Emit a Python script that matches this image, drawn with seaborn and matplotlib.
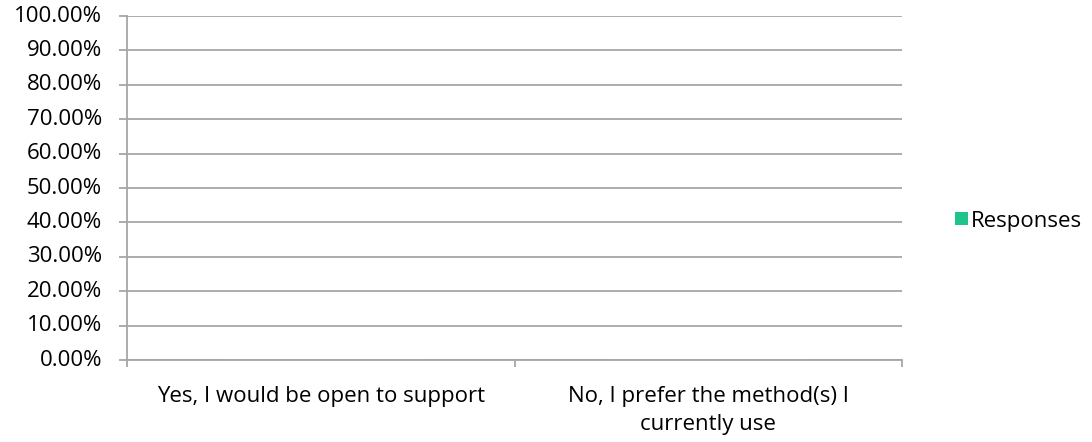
import matplotlib
matplotlib.use("Agg")
import matplotlib.pyplot as plt
import seaborn as sns
import pandas as pd
from matplotlib.ticker import FixedLocator, PercentFormatter
from matplotlib.patches import Patch

categories = ["Yes, I would be open to support", "No, I prefer the method(s) I\ncurrently use"]
responses = [0.0, 0.0]
yticks = [0, 10, 20, 30, 40, 50, 60, 70, 80, 90, 100]

sns.set_theme(style="white")
plt.rcParams['font.family'] = ['Open Sans', 'DejaVu Sans']

df = pd.DataFrame({"category": categories, "Responses": responses})

fig = plt.figure(figsize=(10.92, 4.42), dpi=100)
ax = fig.add_axes([127/1092, 82/442, 775/1092, 344/442])
green = "#1fc48b"
sns.barplot(data=df, x="category", y="Responses", color=green, ax=ax, width=0.5)

gray = "#a6a6a6"
fs = 16
ax.set_ylim(0, 100)
ax.set_xlim(-0.5, 1.5)
ax.yaxis.set_major_locator(FixedLocator(yticks))
ax.yaxis.set_major_formatter(PercentFormatter(decimals=2))
ax.grid(axis="y", color=gray, linewidth=1.3)
ax.set_axisbelow(True)
for s in ["top", "right"]:
    ax.spines[s].set_visible(False)
for s in ["left", "bottom"]:
    ax.spines[s].set_color(gray)
    ax.spines[s].set_linewidth(1.3)
ax.tick_params(axis="y", which="major", length=6, width=1.3, color=gray, labelsize=fs, labelcolor="black", pad=12, left=True)
ax.tick_params(axis="x", which="major", length=0, labelsize=fs, labelcolor="black", pad=19)
ax.xaxis.set_minor_locator(FixedLocator([-0.5, 0.5, 1.5]))
ax.tick_params(axis="x", which="minor", length=5, width=1.3, color=gray, bottom=True)
ax.set_xlabel("")
ax.set_ylabel("")
for lbl in ax.get_yticklabels():
    lbl.set_verticalalignment("center")
for lbl in ax.get_xticklabels():
    lbl.set_horizontalalignment("center")
    lbl.set_multialignment("center")
    lbl.set_linespacing(1.4)

handles = [Patch(facecolor=green, edgecolor="none", label="Responses")]
leg = fig.legend(handles=handles, loc="center left", bbox_to_anchor=(955/1092, 0.5), frameon=False,
                 fontsize=fs, handlelength=0.6, handleheight=0.5, handletextpad=0.12,
                 borderpad=0, borderaxespad=0)
for t in leg.get_texts():
    t.set_color("black")

fig.savefig("out.png", dpi=100)
